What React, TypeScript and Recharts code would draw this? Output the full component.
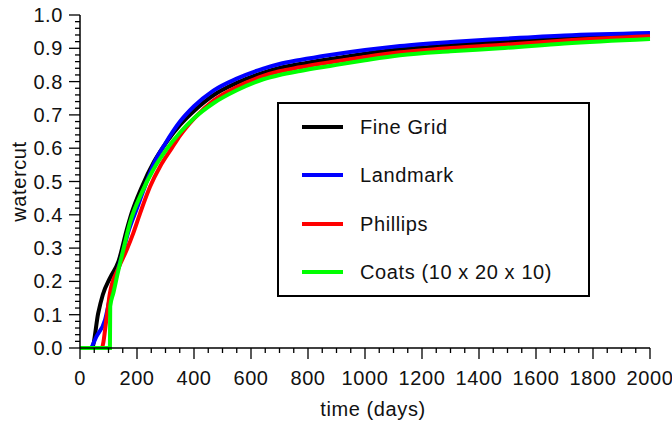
import { LineChart, Line, XAxis, YAxis } from "recharts";

// Watercut vs time
const fineGridDays = [0, 42, 64, 80, 105, 135, 164, 181, 215, 260, 305, 351, 400, 468, 550, 643, 700, 772, 877, 1000, 1123, 1300, 1474, 1700, 2000];
const fineGridCut = [0, 0, 0.105, 0.16, 0.21, 0.26, 0.355, 0.405, 0.48, 0.56, 0.62, 0.67, 0.712, 0.759, 0.796, 0.827, 0.841, 0.853, 0.868, 0.884, 0.897, 0.909, 0.919, 0.9305, 0.939];

const landmarkDays = [0, 35, 58, 88, 105, 120, 145, 170, 200, 230, 260, 300, 351, 400, 468, 550, 643, 700, 772, 877, 1000, 1123, 1300, 1474, 1700, 2000];
const landmarkCut = [0, 0, 0.035, 0.085, 0.15, 0.2, 0.27, 0.35, 0.42, 0.49, 0.555, 0.615, 0.68, 0.726, 0.773, 0.809, 0.839, 0.853, 0.865, 0.88, 0.895, 0.907, 0.919, 0.928, 0.9385, 0.946];

const phillipsDays = [0, 76, 94, 105, 135, 164, 187, 211, 246, 281, 322, 351, 400, 468, 550, 643, 700, 772, 877, 1000, 1123, 1300, 1474, 1700, 2000];
const phillipsCut = [0, 0, 0.095, 0.165, 0.24, 0.295, 0.345, 0.405, 0.485, 0.545, 0.6, 0.638, 0.689, 0.743, 0.784, 0.817, 0.831, 0.843, 0.858, 0.874, 0.888, 0.901, 0.91, 0.9235, 0.936];

const coatsDays = [0, 105, 106, 117, 135, 152, 175, 216, 257, 304, 351, 400, 468, 550, 643, 700, 772, 877, 1000, 1123, 1300, 1474, 1700, 2000];
const coatsCut = [0, 0, 0.125, 0.165, 0.235, 0.295, 0.375, 0.465, 0.535, 0.597, 0.647, 0.69, 0.735, 0.774, 0.807, 0.82, 0.832, 0.847, 0.864, 0.879, 0.891, 0.9, 0.9145, 0.928];

const xMajorTicks = [0, 200, 400, 600, 800, 1000, 1200, 1400, 1600, 1800, 2000];
const yMajorLabels = ["0.0", "0.1", "0.2", "0.3", "0.4", "0.5", "0.6", "0.7", "0.8", "0.9", "1.0"];

const series = [
  { key: "fine", name: "Fine Grid", color: "#000000", days: fineGridDays, cut: fineGridCut },
  { key: "landmark", name: "Landmark", color: "#0000ff", days: landmarkDays, cut: landmarkCut },
  { key: "phillips", name: "Phillips", color: "#ff0000", days: phillipsDays, cut: phillipsCut },
  { key: "coats", name: "Coats (10 x 20 x 10)", color: "#00ff00", days: coatsDays, cut: coatsCut },
];

// merge all series onto one table keyed by time
const buildTable = () => {
  const rows: Record<number, any> = {};
  series.forEach((s) => {
    s.days.forEach((d, i) => {
      if (!rows[d]) rows[d] = { t: d };
      rows[d][s.key] = s.cut[i];
    });
  });
  return Object.values(rows).sort((a: any, b: any) => a.t - b.t);
};

const data = buildTable();

// minor ticks every 50 days / 0.02
const xTicks: number[] = [];
for (let i = 0; i <= 40; i++) xTicks.push(i * 50);
const yTicks: number[] = [];
for (let i = 0; i <= 50; i++) yTicks.push(i / 50);

const FONT = "Arial, 'Liberation Sans', sans-serif";

const XTick = ({ x, y, payload }: any) => {
  const v = payload.value;
  const major = xMajorTicks.includes(v);
  return (
    <g>
      <line x1={x} x2={x} y1={y} y2={y + (major ? 11 : 5)} stroke="#000" strokeWidth={1.3} />
      {major && (
        <text x={x} y={y + 37} textAnchor="middle" fontSize={20} fontFamily={FONT} fill="#111" letterSpacing={0.6}>
          {v}
        </text>
      )}
    </g>
  );
};

const YTick = ({ x, y, payload }: any) => {
  const idx = Math.round(payload.value * 50);
  const major = idx % 5 === 0;
  return (
    <g>
      <line x1={x - (major ? 11 : 5)} x2={x} y1={y} y2={y} stroke="#000" strokeWidth={1.3} />
      {major && (
        <text x={x - 17} y={y + 7} textAnchor="end" fontSize={20} fontFamily={FONT} fill="#111" letterSpacing={0.6}>
          {yMajorLabels[idx / 5]}
        </text>
      )}
    </g>
  );
};

const App = () => {
  return (
    <div style={{ position: "absolute", left: 0, top: 0, width: 672, height: 424, background: "#fff" }}>
      <LineChart width={672} height={424} data={data} margin={{ top: 15, right: 22, bottom: 0, left: 0 }}>
        <XAxis
          dataKey="t"
          type="number"
          domain={[0, 2000]}
          ticks={xTicks}
          interval={0}
          tick={XTick}
          tickLine={false}
          tickSize={0}
          tickMargin={0}
          height={76}
          axisLine={{ stroke: "#000", strokeWidth: 1.5 }}
          label={{
            content: ({ viewBox }: any) => (
              <text
                x={373}
                y={viewBox.y + 68}
                textAnchor="middle"
                fontSize={20}
                fontFamily={FONT}
                fill="#111"
                letterSpacing={0.6}
              >
                time (days)
              </text>
            ),
          }}
        />
        <YAxis
          type="number"
          domain={[0, 1]}
          ticks={yTicks}
          interval={0}
          tick={YTick}
          tickLine={false}
          tickSize={0}
          tickMargin={0}
          width={80}
          axisLine={{ stroke: "#000", strokeWidth: 1.5 }}
          label={{
            content: ({ viewBox }: any) => {
              const cy = viewBox.y + viewBox.height / 2;
              return (
                <text
                  x={18.5}
                  y={cy}
                  transform={`rotate(-90, 18.5, ${cy})`}
                  textAnchor="middle"
                  dominantBaseline="central"
                  fontSize={20}
                  fontFamily={FONT}
                  fill="#111"
                  letterSpacing={0.6}
                >
                  watercut
                </text>
              );
            },
          }}
        />
        {series.map((s) => (
          <Line
            key={s.key}
            type="monotone"
            dataKey={s.key}
            name={s.name}
            stroke={s.color}
            strokeWidth={4}
            dot={false}
            connectNulls
            isAnimationActive={false}
          />
        ))}
      </LineChart>

      <div
        style={{
          position: "absolute",
          left: 277,
          top: 102,
          width: 309,
          height: 191,
          border: "2px solid #000",
          background: "#fff",
          fontFamily: FONT,
          fontSize: 20,
          letterSpacing: 0.6,
          color: "#111",
        }}
      >
        {series.map((s, i) => (
          <div
            key={s.key}
            style={{ position: "absolute", left: 0, top: 23 + i * 48.3, height: 0, width: "100%" }}
          >
            <div style={{ position: "absolute", left: 23, top: -2, width: 41, height: 4, background: s.color }} />
            <div style={{ position: "absolute", left: 81, top: -12, lineHeight: "24px", whiteSpace: "nowrap" }}>
              {s.name}
            </div>
          </div>
        ))}
      </div>
    </div>
  );
};

export default App;
